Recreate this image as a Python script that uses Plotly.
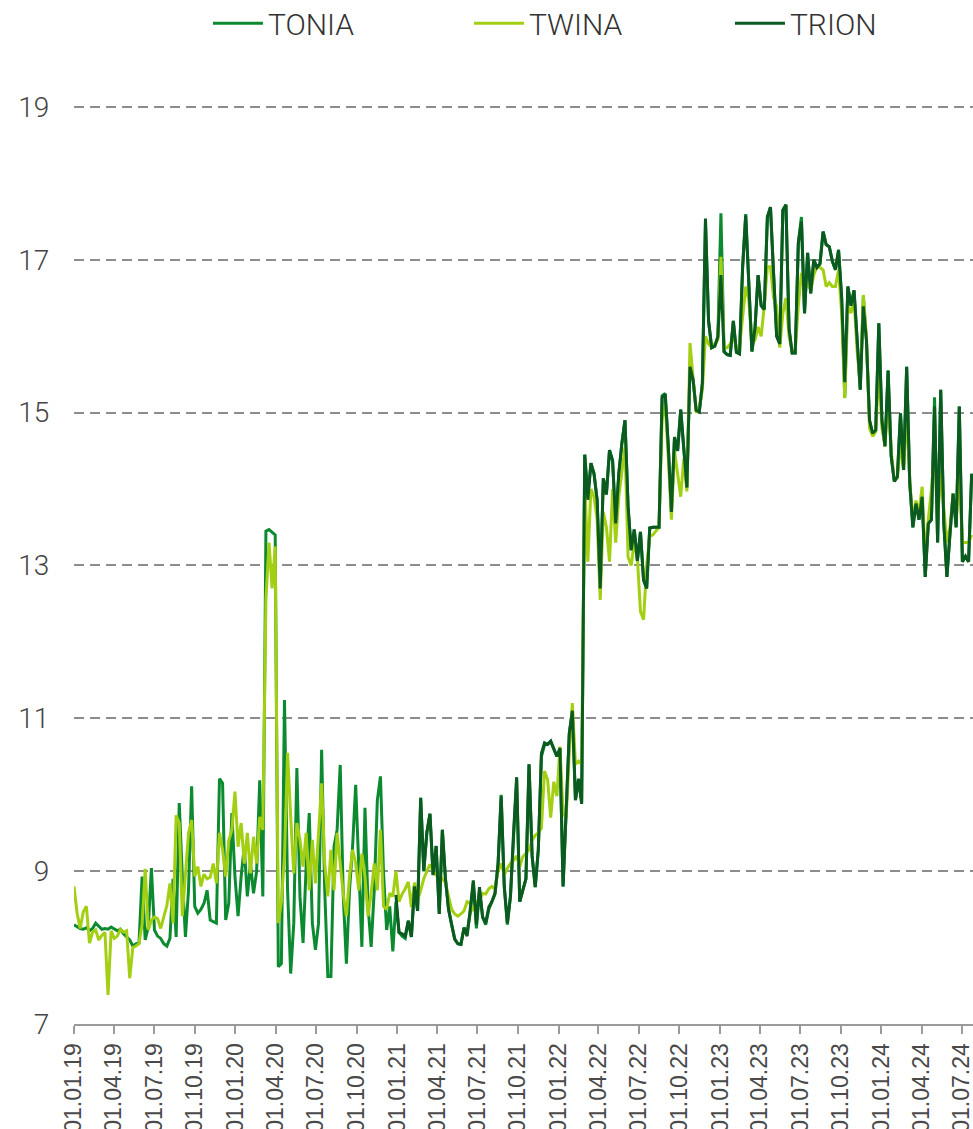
import pandas as pd
import plotly.graph_objects as go

# Weekly observations, starting 01.01.2019
weeks = pd.date_range("2019-01-01", periods=291, freq="7D")

tonia = [
    # 2019
    8.3, 8.27, 8.25, 8.24, 8.26, 8.22, 8.25, 8.32, 8.28, 8.24,
    8.25, 8.24, 8.27, 8.25, 8.22, 8.24, 8.18, 8.14, 8.1, 8.02,
    8.05, 8.06, 8.93, 8.1, 8.27, 9.04, 8.23, 8.15, 8.12, 8.05,
    8.02, 8.12, 8.9, 8.14, 9.89, 8.93, 8.14, 8.75, 10.11, 8.54,
    8.45, 8.5, 8.58, 8.75, 8.36, 8.34, 8.32, 10.21, 10.15, 8.36,
    # 2020
    8.58, 9.76, 8.93, 8.41, 8.93, 9.32, 8.67, 9.1, 8.71, 9.0,
    10.19, 8.67, 13.45, 13.47, 13.44, 13.4, 7.75, 7.79, 11.24, 8.75,
    7.66, 8.32, 10.35, 8.67, 8.06, 9.06, 9.76, 8.32, 7.97, 8.32,
    10.59, 8.75, 7.62, 7.62, 9.32, 9.54, 10.39, 8.67, 7.79, 8.75,
    9.32, 10.13, 9.06, 8.01, 9.83, 8.54, 8.01, 8.75, 9.93, 10.24,
    8.97, 8.23, 8.54, 7.95,
    # 2021
    8.6, 8.2, 8.15, 8.12, 8.35, 8.14, 8.8, 8.48, 9.96, 9.0,
    9.51, 9.75, 8.95, 9.33, 8.44, 9.54, 8.9, 8.5, 8.3, 8.11,
    8.05, 8.04, 8.26, 8.2, 8.45, 8.85, 8.25, 8.75, 8.4, 8.3,
    8.5, 8.6, 8.7, 9.1, 10.0, 8.8, 8.3, 8.67, 9.5, 10.2,
    8.6, 8.75, 8.9, 10.4, 9.2, 8.79, 9.28, 10.5, 10.65, 10.66,
    10.7, 10.6, 10.5, 10.6, 8.8, 9.79, 10.8, 11.1, 9.93, 10.2,
    9.9,
    # 2022
    14.45, 13.9, 14.34, 14.2, 13.86, 12.7, 14.14, 13.93, 14.51, 14.37,
    13.55, 14.2, 14.6, 14.9, 13.77, 13.2, 13.47, 13.06, 13.44, 12.81,
    12.7, 13.49, 13.5, 13.5, 13.5, 15.22, 15.25, 14.55, 13.7, 14.68,
    14.5, 15.04, 14.58, 14.02, 15.6, 15.43, 15.03, 15.01, 15.38, 17.5,
    # 2023
    16.2, 15.85, 15.87, 15.99, 17.61, 15.8, 15.76, 15.75, 16.2, 15.79,
    15.77, 16.9, 17.6, 16.6, 15.8, 16.1, 16.8, 16.4, 16.35, 17.56,
    17.69, 16.82, 16.0, 15.9, 17.65, 17.72, 16.1, 15.78, 15.78, 17.22,
    17.56, 16.3, 17.09, 16.56, 17.0, 16.9, 16.95, 17.37, 17.2, 17.17,
    16.98, 16.87, 17.13, 16.5, 15.2, 16.65, 16.4, 16.6, 15.87, 15.3,
    16.52, 15.95, 14.9, 14.73, 14.77, 16.17,
    # 2024
    14.9, 14.56, 15.55, 14.43, 14.1, 14.16, 14.99, 14.25, 15.6, 14.08,
    13.5, 13.81, 13.6, 13.9, 12.85, 13.55, 13.6, 15.2, 13.3, 15.3,
    13.55, 12.85, 13.42, 13.94, 13.5, 15.08, 13.05, 13.12, 13.05, 14.2,
]

twina = [
    # 2019
    8.8, 8.45, 8.25, 8.47, 8.54, 8.06, 8.2, 8.23, 8.1, 8.16,
    8.2, 7.38, 8.22, 8.12, 8.15, 8.24, 8.2, 8.22, 7.6, 8.0,
    8.02, 8.05, 8.3, 9.03, 8.23, 8.36, 8.4, 8.38, 8.25, 8.4,
    8.55, 8.84, 8.32, 9.73, 9.63, 8.41, 9.0, 9.5, 9.67, 8.93,
    9.06, 8.8, 8.96, 8.9, 8.92, 9.1, 8.84, 9.5, 9.28, 8.93,
    # 2020
    9.4, 9.54, 10.04, 9.32, 9.63, 9.1, 9.5, 8.97, 9.45, 9.1,
    9.71, 9.54, 12.55, 13.3, 12.7, 13.25, 8.32, 8.6, 9.19, 10.55,
    9.71, 8.97, 9.63, 9.41, 9.06, 9.5, 8.75, 9.41, 8.84, 9.54,
    10.15, 9.1, 8.67, 9.28, 8.75, 9.5, 9.06, 8.7, 8.41, 8.93,
    9.28, 9.1, 8.75, 9.23, 8.93, 8.41, 8.71, 9.1, 8.75, 9.54,
    8.54, 8.5, 8.71, 8.67,
    # 2021
    9.0, 8.6, 8.7, 8.77, 8.86, 8.53, 8.85, 8.62, 8.75, 8.9,
    9.0, 9.09, 9.0, 8.95, 8.95, 8.9, 8.85, 8.67, 8.5, 8.44,
    8.41, 8.44, 8.48, 8.6, 8.58, 8.48, 8.6, 8.62, 8.71, 8.7,
    8.77, 8.8, 8.77, 9.0, 9.1, 8.95, 9.04, 9.1, 9.14, 9.2,
    9.06, 9.19, 9.24, 9.28, 9.4, 9.47, 9.5, 9.56, 10.31, 10.2,
    9.7, 10.17, 9.98, 10.63, 9.75, 9.7, 10.54, 11.2, 10.4, 10.44,
    10.4,
    # 2022
    14.1, 13.05, 14.0, 13.9, 13.6, 12.55, 13.7, 13.5, 13.05, 14.0,
    13.3, 13.9, 14.2, 14.55, 13.11, 13.0, 13.3, 13.1, 12.4, 12.29,
    13.0, 13.38, 13.4, 13.45, 13.5, 14.92, 15.1, 14.4, 13.6, 14.5,
    14.2, 13.9, 14.4, 13.97, 15.91, 15.4, 15.0, 15.05, 15.3, 16.0,
    # 2023
    15.9, 15.85, 15.9, 15.95, 17.04, 15.85, 15.85, 15.9, 16.0, 15.85,
    15.85, 16.3, 16.65, 16.48, 15.9, 15.95, 16.12, 16.0, 16.4, 16.91,
    16.91, 16.5, 16.39, 15.85, 16.3, 16.5, 16.0, 15.8, 15.8, 16.4,
    16.83, 16.6, 16.7, 16.6, 16.8, 16.91, 16.9, 16.87, 16.65, 16.7,
    16.65, 16.65, 16.87, 16.3, 15.19, 16.4, 16.3, 16.5, 15.8, 15.4,
    16.54, 16.0, 14.8, 14.69, 14.75, 15.6,
    # 2024
    14.8, 14.56, 15.2, 14.5, 14.12, 14.15, 14.6, 14.25, 15.0, 14.1,
    13.6, 13.85, 13.7, 14.03, 13.1, 13.6, 14.0, 14.5, 13.6, 14.2,
    13.7, 13.3, 13.5, 13.94, 13.6, 14.2, 13.3, 13.3, 13.3, 13.4,
]

# TRION is published from the end of December 2020
trion = [None] * 104 + [
    # 2021
    8.69, 8.2, 8.18, 8.15, 8.35, 8.14, 8.8, 8.48, 9.96, 9.0,
    9.51, 9.75, 8.95, 9.33, 8.44, 9.54, 8.9, 8.5, 8.3, 8.11,
    8.05, 8.04, 8.26, 8.15, 8.5, 8.88, 8.3, 8.79, 8.4, 8.32,
    8.53, 8.6, 8.71, 9.09, 9.98, 8.8, 8.32, 8.67, 9.5, 10.23,
    8.6, 8.75, 8.9, 10.4, 9.2, 8.79, 9.28, 10.54, 10.68, 10.66,
    10.7, 10.6, 10.5, 10.61, 8.8, 9.79, 10.8, 11.1, 9.93, 10.21,
    9.88,
    # 2022
    14.45, 13.86, 14.34, 14.2, 13.86, 12.7, 14.14, 13.93, 14.51, 14.37,
    13.55, 14.2, 14.6, 14.9, 13.77, 13.2, 13.47, 13.06, 13.44, 12.81,
    12.7, 13.49, 13.5, 13.5, 13.5, 15.2, 15.24, 14.55, 13.7, 14.68,
    14.5, 15.04, 14.58, 14.02, 15.6, 15.43, 15.03, 15.01, 15.38, 17.54,
    # 2023
    16.2, 15.85, 15.87, 15.99, 16.8, 15.8, 15.76, 15.75, 16.2, 15.79,
    15.77, 16.9, 17.58, 16.6, 15.8, 16.1, 16.8, 16.4, 16.35, 17.56,
    17.69, 16.82, 16.0, 15.9, 17.65, 17.72, 16.1, 15.78, 15.78, 17.22,
    17.5, 16.3, 17.09, 16.56, 17.0, 16.9, 16.95, 17.37, 17.2, 17.17,
    16.98, 16.87, 17.13, 16.5, 15.4, 16.65, 16.4, 16.6, 15.87, 15.3,
    16.39, 15.95, 14.9, 14.73, 14.77, 16.17,
    # 2024
    14.9, 14.56, 15.55, 14.43, 14.1, 14.16, 14.99, 14.25, 15.6, 14.08,
    13.5, 13.81, 13.6, 13.9, 12.85, 13.55, 13.6, 15.08, 13.3, 15.3,
    13.55, 12.85, 13.42, 13.94, 13.5, 15.08, 13.05, 13.12, 13.05, 14.2,
]

assert len(tonia) == len(weeks), len(tonia)
assert len(twina) == len(weeks), len(twina)
assert len(trion) == len(weeks), len(trion)

series_names = ["TONIA", "TWINA", "TRION"]
series_colors = ["#0b8a30", "#a3cf12", "#0b5a1f"]

quarter_ticks = pd.date_range("2019-01-01", "2024-07-01", freq="QS")
quarter_labels = [d.strftime("%d.%m.%y") for d in quarter_ticks]

fig = go.Figure()
for name, values, color in zip(series_names, [tonia, twina, trion], series_colors):
    fig.add_trace(go.Scatter(
        x=weeks, y=values, name=name, mode="lines",
        line=dict(color=color, width=3),
        connectgaps=False,
    ))

fig.update_layout(
    width=973, height=1129,
    margin=dict(l=74, r=0, t=69, b=105, autoexpand=False),
    paper_bgcolor="white", plot_bgcolor="white",
    font=dict(family="Roboto", size=28, color="#444444", weight=300),
    showlegend=True,
    legend=dict(
        orientation="h",
        x=0.149, y=1.048, xanchor="left", yanchor="middle",
        entrywidth=196, entrywidthmode="pixels",
        itemwidth=50,
        font=dict(family="Roboto", size=30, color="#333333", weight=300),
        bgcolor="rgba(0,0,0,0)",
    ),
)

fig.update_xaxes(
    type="date",
    range=["2019-01-01", "2024-07-26"],
    tickvals=quarter_ticks, ticktext=quarter_labels,
    tickangle=-90,
    ticks="outside", ticklen=8, tickwidth=2, tickcolor="#9a9a9a",
    showline=True, linecolor="#9a9a9a", linewidth=2,
    showgrid=False, zeroline=False,
    tickfont=dict(family="Liberation Sans", size=23, color="#4a4a4a", weight=400),
    ticklabeloverflow="allow",
    automargin=False,
)

fig.update_yaxes(
    range=[7, 19.497],
    tick0=7, dtick=2,
    showgrid=True, gridcolor="#8c8c8c", gridwidth=2, griddash="10px,6px",
    ticks="outside", ticklen=18, tickcolor="rgba(0,0,0,0)",
    showline=False, zeroline=False,
    tickfont=dict(family="Roboto", size=28, color="#444444", weight=300),
    automargin=False,
)

fig.write_html("out.html")
